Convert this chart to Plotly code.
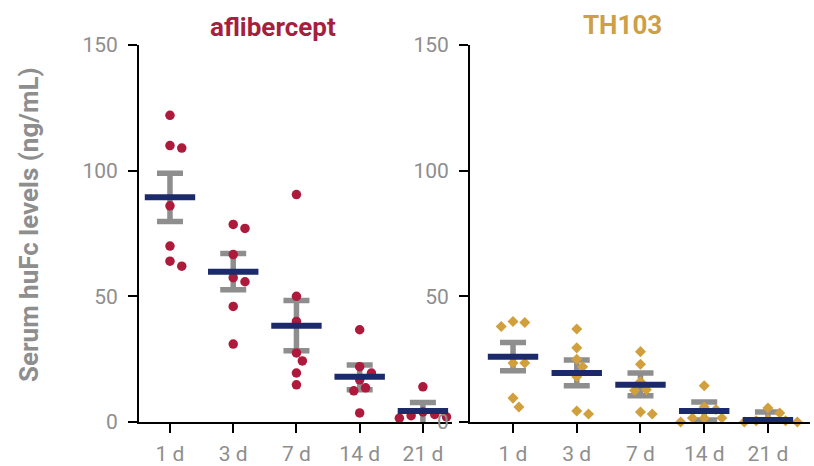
import plotly.graph_objects as go

categories = ["1 d", "3 d", "7 d", "14 d", "21 d"]

# aflibercept individual values (ng/mL)
afl_1d = [122, 110, 109, 86, 70, 64, 62]
afl_3d = [78.6, 77, 66.6, 57.4, 55.8, 46, 31]
afl_7d = [90.5, 50, 40, 27.5, 24.3, 19.5, 14.8]
afl_14d = [36.7, 22, 19.5, 16.8, 13.6, 12.4, 3.6]
afl_21d = [14, 4, 3, 2.5, 2, 1.5, 1]
afl_mean = [89.4, 59.8, 38.3, 18.0, 4.4]
afl_err_up = [9.6, 7.2, 10.0, 4.7, 3.4]
afl_err_down = [9.6, 7.2, 10.0, 5.2, 8.4]

# TH103 individual values (ng/mL)
th_1d = [40, 39.6, 38, 23.5, 23.5, 9.5, 6]
th_3d = [37, 29.5, 25, 22, 18, 4.4, 3.2]
th_7d = [28, 23, 16, 12.8, 12.5, 4, 3.2]
th_14d = [14.4, 6, 5, 1.6, 1.6, 1.6, 0]
th_21d = [5.6, 3.6, 1, 0.5, 0.5, 0, 0]
th_mean = [26.0, 19.5, 14.8, 4.4, 0.8]
th_err_up = [5.6, 5.2, 4.7, 3.6, 3.2]
th_err_down = [5.6, 5.1, 4.4, 3.6, 3.2]

y_ticks = [0, 50, 100, 150]

W, H = 814, 466
PX_PER_UNIT = (422 - 45) / 150.0
DIAM = 9.5

RED = "#ad1a3c"
GOLD = "#d19f3c"
GREY = "#8e8e8e"
NAVY = "#1b2a6b"
FONT = "Roboto"


def beeswarm(groups, px_per_cat):
    xs, ys = [], []
    for i, vals in enumerate(groups):
        placed = []
        for v in sorted(vals, reverse=True):
            cands = [0]
            for k in range(1, 6):
                cands += [k * DIAM * 0.62, -k * DIAM * 0.62]
            for c in cands:
                ok = True
                for (px, py) in placed:
                    dx = c - px
                    dy = (v - py) * PX_PER_UNIT
                    if dx * dx + dy * dy < (DIAM * 0.95) ** 2:
                        ok = False
                        break
                if ok:
                    placed.append((c, v))
                    break
        for (px, py) in placed:
            xs.append(i + px / px_per_cat)
            ys.append(py)
    return xs, ys


fig = go.Figure()

panels = [
    dict(groups=[afl_1d, afl_3d, afl_7d, afl_14d, afl_21d], mean=afl_mean,
         up=afl_err_up, down=afl_err_down, color=RED, symbol="circle", size=9.5,
         xa="x", ya="y", ppc=63.25),
    dict(groups=[th_1d, th_3d, th_7d, th_14d, th_21d], mean=th_mean,
         up=th_err_up, down=th_err_down, color=GOLD, symbol="diamond", size=8.5,
         xa="x2", ya="y2", ppc=63.75),
]

for p in panels:
    idx = list(range(len(categories)))
    # error bars (SEM)
    fig.add_trace(go.Scatter(
        x=idx, y=p["mean"], mode="markers", xaxis=p["xa"], yaxis=p["ya"],
        marker=dict(size=1, color="rgba(0,0,0,0)"),
        error_y=dict(type="data", symmetric=False, array=p["up"], arrayminus=p["down"],
                     color=GREY, thickness=5.5, width=13),
        cliponaxis=False, showlegend=False, hoverinfo="skip"))
    # individual points
    xs, ys = beeswarm(p["groups"], p["ppc"])
    fig.add_trace(go.Scatter(
        x=xs, y=ys, mode="markers", xaxis=p["xa"], yaxis=p["ya"],
        marker=dict(size=p["size"], color=p["color"], symbol=p["symbol"], line=dict(width=0)),
        cliponaxis=False, showlegend=False))
    # mean line
    fig.add_trace(go.Scatter(
        x=idx, y=p["mean"], mode="markers", xaxis=p["xa"], yaxis=p["ya"],
        marker=dict(symbol="line-ew", size=36, color=NAVY, line=dict(width=6, color=NAVY)),
        cliponaxis=False, showlegend=False))

ydom = [(H - 422) / H, (H - 45) / H]

axis_common = dict(showline=True, linecolor="black", linewidth=2, ticks="outside",
                   ticklen=9, tickwidth=2, tickcolor="black", showgrid=False, zeroline=False,
                   automargin=False,
                   tickfont=dict(family=FONT, size=21, color=GREY))

fig.update_layout(
    width=W, height=H, margin=dict(l=0, r=0, t=0, b=0),
    paper_bgcolor="white", plot_bgcolor="white",
    xaxis=dict(domain=[139 / W, 452 / W], range=[-0.49, 4.46], tickvals=list(range(5)),
               ticktext=categories, anchor="y", ticklabelstandoff=3, **axis_common),
    yaxis=dict(domain=ydom, range=[0, 150], tickvals=y_ticks, anchor="x",
               ticklabelstandoff=6, **axis_common),
    xaxis2=dict(domain=[470 / W, 810 / W], range=[-0.675, 4.66], tickvals=list(range(5)),
                ticktext=categories, anchor="y2", ticklabelstandoff=3, **axis_common),
    yaxis2=dict(domain=ydom, range=[0, 150], tickvals=y_ticks, anchor="x2",
                ticklabelstandoff=6, **axis_common),
    annotations=[
        dict(text="<b>aflibercept</b>", x=273 / W, y=1 - 27 / H, xref="paper", yref="paper",
             showarrow=False, font=dict(family=FONT, size=26, color="#a51f3f"),
             xanchor="center", yanchor="middle"),
        dict(text="<b>TH103</b>", x=622 / W, y=1 - 25 / H, xref="paper", yref="paper",
             showarrow=False, font=dict(family=FONT, size=26, color="#cc9f48"),
             xanchor="center", yanchor="middle"),
        dict(text="<b>Serum huFc levels (ng/mL)</b>", x=29 / W, y=1 - 225 / H,
             xref="paper", yref="paper", showarrow=False, textangle=-90,
             font=dict(family=FONT, size=26, color=GREY), xanchor="center", yanchor="middle"),
    ],
)

fig.write_html("out.html")
